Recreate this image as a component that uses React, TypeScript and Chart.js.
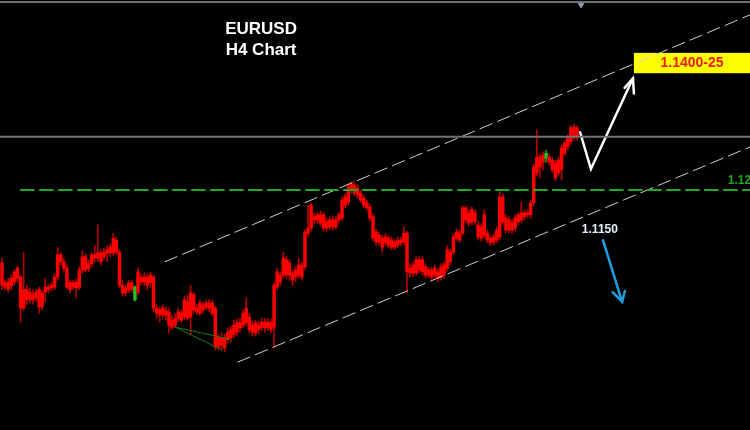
import React, { useEffect, useRef } from "react";
import { Chart, registerables } from "chart.js";
Chart.register(...registerables);

// ---- EURUSD H4 candles (price values) ----
const opens = [
  1.1085,1.1054,1.1055,1.1061,1.1071,1.1077,1.1063,1.1043,1.1043,1.1039,
  1.1036,1.1039,1.1043,1.1038,1.1047,1.1047,1.1050,1.1063,1.1098,1.1098,
  1.1087,1.1077,1.1054,1.1054,1.1055,1.1074,1.1095,1.1095,1.1084,1.1098,
  1.1098,1.1101,1.1101,1.1102,1.1106,1.1110,1.1124,1.1121,1.1102,1.1050,
  1.1046,1.1054,1.1054,1.1047,1.1071,1.1063,1.1063,1.1063,1.1066,1.1063,
  1.1014,1.1011,1.1014,1.1010,1.1008,1.0995,1.0998,1.1008,1.1006,1.1027,
  1.1024,1.1038,1.1035,1.1014,1.1022,1.1019,1.1022,1.1022,1.1022,1.1014,
  1.0968,1.0968,1.0968,1.0976,1.0980,1.0987,1.0991,1.0992,1.1006,1.1014,
  1.1000,1.0987,1.0991,1.0987,1.0992,1.0992,1.0992,1.0991,1.1050,1.1071,
  1.1066,1.1093,1.1090,1.1085,1.1069,1.1074,1.1082,1.1082,1.1134,1.1140,
  1.1176,1.1158,1.1161,1.1161,1.1161,1.1150,1.1153,1.1153,1.1153,1.1161,
  1.1184,1.1189,1.1205,1.1210,1.1208,1.1203,1.1195,1.1187,1.1180,1.1173,
  1.1158,1.1134,1.1129,1.1124,1.1126,1.1124,1.1121,1.1118,1.1121,1.1121,
  1.1132,1.1132,1.1077,1.1082,1.1090,1.1090,1.1090,1.1079,1.1074,1.1074,
  1.1077,1.1071,1.1079,1.1082,1.1106,1.1102,1.1126,1.1134,1.1132,1.1172,
  1.1172,1.1164,1.1169,1.1164,1.1145,1.1142,1.1161,1.1132,1.1124,1.1126,
  1.1137,1.1189,1.1189,1.1156,1.1153,1.1148,1.1156,1.1161,1.1164,1.1164,
  1.1164,1.1180,1.1236,1.1252,1.1252,1.1255,1.1258,1.1252,1.1247,1.1243,
  1.1247,1.1266,1.1274,1.1282,1.1298,1.1299,1.1298
];
const closes = [
  1.1050,1.1047,1.1044,1.1049,1.1055,1.1061,1.1014,1.1014,1.1027,1.1027,
  1.1027,1.1030,1.1016,1.1016,1.1039,1.1043,1.1046,1.1047,1.1063,1.1087,
  1.1077,1.1047,1.1043,1.1047,1.1046,1.1047,1.1074,1.1074,1.1076,1.1084,
  1.1093,1.1093,1.1087,1.1095,1.1101,1.1101,1.1101,1.1102,1.1050,1.1038,
  1.1038,1.1043,1.1043,1.1027,1.1039,1.1055,1.1055,1.1050,1.1054,1.1014,
  1.1006,1.1003,1.1003,1.1003,1.0987,1.0984,1.0987,1.0998,1.0995,1.1000,
  1.0998,1.1000,1.1011,1.1008,1.1006,1.1011,1.1016,1.1014,1.1006,1.0953,
  1.0953,1.0956,1.0951,1.0964,1.0967,1.0972,1.0976,1.0983,1.0987,1.0991,
  1.0980,1.0976,1.0975,1.0980,1.0983,1.0983,1.0983,1.0980,1.0984,1.1047,
  1.1055,1.1066,1.1066,1.1066,1.1058,1.1063,1.1066,1.1063,1.1079,1.1132,
  1.1140,1.1153,1.1153,1.1148,1.1140,1.1140,1.1142,1.1142,1.1142,1.1153,
  1.1156,1.1176,1.1181,1.1200,1.1195,1.1192,1.1184,1.1176,1.1172,1.1156,
  1.1124,1.1118,1.1118,1.1110,1.1117,1.1113,1.1110,1.1110,1.1113,1.1117,
  1.1118,1.1071,1.1069,1.1069,1.1069,1.1074,1.1071,1.1066,1.1066,1.1063,
  1.1066,1.1061,1.1063,1.1066,1.1077,1.1087,1.1102,1.1124,1.1121,1.1132,
  1.1153,1.1148,1.1150,1.1150,1.1126,1.1124,1.1129,1.1121,1.1117,1.1118,
  1.1121,1.1126,1.1150,1.1137,1.1137,1.1137,1.1140,1.1150,1.1153,1.1158,
  1.1161,1.1161,1.1180,1.1227,1.1236,1.1244,1.1250,1.1244,1.1232,1.1219,
  1.1227,1.1232,1.1258,1.1268,1.1276,1.1284,1.1284
];
const highs = [
  1.1093,1.1058,1.1061,1.1066,1.1074,1.1080,1.1066,1.1102,1.1050,1.1046,
  1.1043,1.1044,1.1047,1.1043,1.1061,1.1052,1.1055,1.1068,1.1110,1.1102,
  1.1093,1.1082,1.1058,1.1058,1.1060,1.1079,1.1104,1.1099,1.1090,1.1102,
  1.1113,1.1145,1.1106,1.1109,1.1112,1.1115,1.1132,1.1126,1.1106,1.1058,
  1.1050,1.1058,1.1058,1.1049,1.1077,1.1068,1.1069,1.1068,1.1071,1.1066,
  1.1019,1.1016,1.1019,1.1016,1.1014,1.1003,1.1005,1.1014,1.1011,1.1033,
  1.1035,1.1050,1.1039,1.1020,1.1027,1.1024,1.1027,1.1027,1.1027,1.1017,
  1.0973,1.0975,1.0973,1.0983,1.0986,1.0995,1.0997,1.0998,1.1011,1.1030,
  1.1006,1.0994,1.0995,1.0994,1.0998,1.0998,1.0998,1.0997,1.1055,1.1077,
  1.1071,1.1102,1.1096,1.1090,1.1074,1.1080,1.1093,1.1087,1.1137,1.1176,
  1.1180,1.1164,1.1165,1.1167,1.1165,1.1156,1.1158,1.1159,1.1159,1.1165,
  1.1189,1.1194,1.1210,1.1213,1.1213,1.1208,1.1200,1.1192,1.1184,1.1178,
  1.1162,1.1139,1.1134,1.1129,1.1131,1.1129,1.1126,1.1123,1.1126,1.1126,
  1.1142,1.1135,1.1084,1.1087,1.1095,1.1095,1.1095,1.1084,1.1079,1.1079,
  1.1082,1.1076,1.1084,1.1087,1.1112,1.1107,1.1131,1.1139,1.1137,1.1175,
  1.1175,1.1169,1.1173,1.1169,1.1150,1.1147,1.1169,1.1137,1.1129,1.1131,
  1.1142,1.1200,1.1194,1.1161,1.1158,1.1153,1.1161,1.1165,1.1181,1.1169,
  1.1169,1.1184,1.1241,1.1295,1.1257,1.1260,1.1263,1.1257,1.1252,1.1247,
  1.1252,1.1271,1.1279,1.1287,1.1302,1.1304,1.1301
];
const lows = [
  1.1043,1.1043,1.1039,1.1043,1.1050,1.1055,1.0992,1.1011,1.1019,1.1022,
  1.1020,1.1024,1.1006,1.1011,1.1024,1.1038,1.1041,1.1043,1.1058,1.1082,
  1.1071,1.1044,1.1038,1.1043,1.1030,1.1043,1.1069,1.1071,1.1071,1.1079,
  1.1087,1.1087,1.1082,1.1090,1.1087,1.1095,1.1096,1.1098,1.1046,1.1033,
  1.1033,1.1038,1.1039,1.1025,1.1035,1.1050,1.1049,1.1043,1.1047,1.1008,
  1.0998,1.0992,1.0998,1.0995,1.0975,1.0980,1.0983,1.0992,1.0991,1.0995,
  1.0995,1.0972,1.1006,1.1003,1.1002,1.1006,1.1011,1.1008,1.1002,1.0948,
  1.0948,1.0948,1.0945,1.0959,1.0961,1.0967,1.0970,1.0976,1.0983,1.0986,
  1.0975,1.0970,1.0970,1.0973,1.0978,1.0976,1.0978,1.0975,1.0951,1.1043,
  1.1049,1.1061,1.1061,1.1058,1.1050,1.1055,1.1061,1.1058,1.1074,1.1126,
  1.1135,1.1147,1.1147,1.1143,1.1135,1.1135,1.1137,1.1137,1.1139,1.1148,
  1.1151,1.1172,1.1176,1.1195,1.1191,1.1187,1.1180,1.1172,1.1167,1.1151,
  1.1120,1.1113,1.1113,1.1102,1.1112,1.1109,1.1106,1.1106,1.1109,1.1112,
  1.1113,1.1038,1.1063,1.1063,1.1065,1.1069,1.1066,1.1061,1.1061,1.1058,
  1.1061,1.1055,1.1058,1.1061,1.1072,1.1082,1.1098,1.1120,1.1117,1.1128,
  1.1148,1.1143,1.1145,1.1145,1.1121,1.1120,1.1124,1.1117,1.1112,1.1113,
  1.1117,1.1121,1.1145,1.1132,1.1132,1.1132,1.1135,1.1145,1.1148,1.1153,
  1.1156,1.1156,1.1175,1.1222,1.1219,1.1232,1.1244,1.1239,1.1227,1.1214,
  1.1222,1.1216,1.1254,1.1263,1.1271,1.1279,1.1279
];
const greenCandles = [43, 176];

// ---- Annotation levels / drawings (candle index, price) ----
const xMin = -0.65;
const xMax = 241.96;
const yMin = 1.0822;
const yMax = 1.14993;

const upperChannel = [{ x: 52.7, y: 1.1087 }, { x: 242, y: 1.1476 }];
const lowerChannel = [{ x: 76.3, y: 1.0929 }, { x: 242, y: 1.1268 }];
const resistanceLevel = [{ x: 6.1, y: 1.12 }, { x: 242, y: 1.12 }];
const currentPriceLine = [{ x: -1, y: 1.1284 }, { x: 242, y: 1.1284 }];
const topFrameLine = [{ x: -1, y: 1.1496 }, { x: 242, y: 1.1496 }];
const topMarker = [{ x: 187.3, y: 1.1493 }];
const bullPath = [{ x: 187.0, y: 1.1291 }, { x: 190.5, y: 1.1233 }, { x: 204.1, y: 1.1376 }];
const bullHead = [{ x: 201.4, y: 1.1361 }, { x: 204.1, y: 1.1376 }, { x: 204.4, y: 1.1352 }];
const bearPath = [{ x: 194.4, y: 1.1121 }, { x: 200.6, y: 1.1024 }];
const bearHead = [{ x: 197.5, y: 1.1039 }, { x: 200.6, y: 1.1024 }, { x: 201.5, y: 1.1041 }];
const greenWedge = [{ x: 71.2, y: 1.0948 }, { x: 56.0, y: 1.0984 }, { x: 73.8, y: 1.0965 }];

const titleLines = ["EURUSD", "H4 Chart"];
const titlePos = { x: 83.8, y1: 1.14536, y2: 1.14206 };
const targetText = "1.1400-25";
const targetBox = { x1: 204.4, x2: 242.5, yTop: 1.1416, yBot: 1.1384, tx: 223.2, ty: 1.14 };
const supportText = "1.1150";
const supportPos = { x: 193.4, y: 1.1137 };
const levelText = "1.1200";
const levelPos = { x: 234.8, y: 1.1214 };

const idx = opens.map((_, i) => i);

export default function App() {
  const ref = useRef<HTMLCanvasElement | null>(null);

  useEffect(() => {
    const canvas = ref.current;
    if (!canvas) return;

    const bgPlugin = {
      id: "bg",
      beforeDraw(chart: any) {
        const { ctx, width, height } = chart;
        ctx.save();
        ctx.fillStyle = "#000000";
        ctx.fillRect(0, 0, width, height);
        ctx.restore();
      },
      beforeDatasetsDraw(chart: any) {
        const { ctx, scales } = chart;
        const x = scales.x, y = scales.y;
        const l = x.getPixelForValue(targetBox.x1);
        const r = x.getPixelForValue(targetBox.x2);
        const t = y.getPixelForValue(targetBox.yTop);
        const b = y.getPixelForValue(targetBox.yBot);
        ctx.save();
        ctx.fillStyle = "#ffff00";
        ctx.fillRect(l, t, r - l, b - t);
        ctx.restore();
      },
      afterDatasetsDraw(chart: any) {
        const { ctx, scales } = chart;
        const x = scales.x, y = scales.y;
        ctx.save();
        ctx.textBaseline = "middle";
        ctx.textAlign = "center";
        ctx.fillStyle = "#ffffff";
        ctx.font = "bold 17px 'Liberation Sans', Arial, sans-serif";
        ctx.fillText(titleLines[0], x.getPixelForValue(titlePos.x), y.getPixelForValue(titlePos.y1));
        ctx.fillText(titleLines[1], x.getPixelForValue(titlePos.x), y.getPixelForValue(titlePos.y2));

        ctx.fillStyle = "#f01818";
        ctx.font = "bold 14px 'Liberation Sans', Arial, sans-serif";
        ctx.fillText(targetText, x.getPixelForValue(targetBox.tx), y.getPixelForValue(targetBox.ty));

        ctx.fillStyle = "#e6eef6";
        ctx.font = "bold 12px 'Liberation Sans', Arial, sans-serif";
        ctx.fillText(supportText, x.getPixelForValue(supportPos.x), y.getPixelForValue(supportPos.y));

        ctx.textAlign = "left";
        ctx.fillStyle = "#22a822";
        ctx.font = "bold 12px 'Liberation Sans', Arial, sans-serif";
        ctx.fillText(levelText, x.getPixelForValue(levelPos.x), y.getPixelForValue(levelPos.y));
        ctx.restore();
      },
    };

    const lineDs = (data: any[], color: string, width: number, dash: number[] = []) => ({
      type: "line" as const,
      data,
      borderColor: color,
      borderWidth: width,
      borderDash: dash,
      pointRadius: 0,
      fill: false,
      tension: 0,
      order: 0,
      borderCapStyle: "round" as const,
      borderJoinStyle: "miter" as const,
    });

    const chart = new Chart(canvas, {
      type: "bar",
      data: {
        datasets: [
          {
            type: "bar",
            data: idx.map((i) => ({ x: i, y: [lows[i], highs[i]] })),
            backgroundColor: idx.map((i) => (greenCandles.includes(i) ? "#1c9a1c" : "#b80000")),
            barThickness: 1,
            grouped: false,
            order: 3,
          } as any,
          {
            type: "bar",
            data: idx.map((i) => ({ x: i, y: [closes[i], opens[i]] })),
            backgroundColor: idx.map((i) => (greenCandles.includes(i) ? "#22c022" : "#ff0000")),
            barThickness: 2.8,
            grouped: false,
            order: 2,
          } as any,
          lineDs(topFrameLine, "#6f6f6f", 2),
          lineDs(currentPriceLine, "#737373", 2),
          lineDs(resistanceLevel, "#22aa22", 2, [13, 6]),
          lineDs(upperChannel, "#cfcfcf", 1, [13, 6]),
          lineDs(lowerChannel, "#cfcfcf", 1, [13, 6]),
          lineDs(greenWedge, "#1e7a1e", 1),
          lineDs(bullPath, "#ffffff", 2.5),
          lineDs(bullHead, "#ffffff", 2.5),
          lineDs(bearPath, "#1e9fe2", 2.5),
          lineDs(bearHead, "#1e9fe2", 2.5),
          {
            type: "scatter",
            data: topMarker,
            pointStyle: "triangle",
            rotation: 180,
            pointRadius: 4,
            backgroundColor: "#8c9cb2",
            borderColor: "#8c9cb2",
            order: 0,
          } as any,
        ],
      },
      options: {
        responsive: false,
        animation: false,
        maintainAspectRatio: false,
        layout: { padding: 0, autoPadding: false },
        plugins: { legend: { display: false }, tooltip: { enabled: false }, title: { display: false } },
        scales: {
          x: { type: "linear", min: xMin, max: xMax, display: false, offset: false },
          y: { type: "linear", min: yMin, max: yMax, display: false },
        },
      },
      plugins: [bgPlugin],
    });

    return () => chart.destroy();
  }, []);

  return (
    <div style={{ position: "fixed", left: 0, top: 0, width: 750, height: 430, background: "#000" }}>
      <canvas ref={ref} width={750} height={430} style={{ display: "block" }} />
    </div>
  );
}
